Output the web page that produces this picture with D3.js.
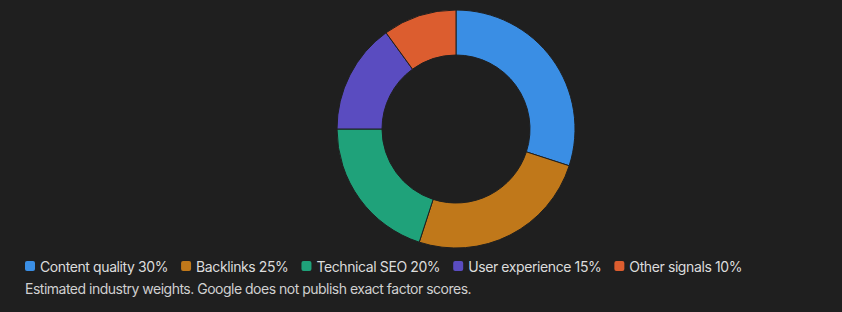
<!DOCTYPE html>
<html>
<head>
<meta charset="utf-8">
<script src="https://cdn.jsdelivr.net/npm/d3@7"></script>
<style>
  html, body { margin: 0; padding: 0; background: #1f1f1f; }
  svg { display: block; }
</style>
</head>
<body>
<div id="chart"></div>
<script>
// chart values
var factors = ["Content quality", "Backlinks", "Technical SEO", "User experience", "Other signals"];
var weights = [30, 25, 20, 15, 10];
var colors = ["#3a8ee4", "#c0781a", "#1fa27a", "#5a4cc0", "#dc5d2f"];
var note = "Estimated industry weights. Google does not publish exact factor scores.";

var width = 842, height = 312;
var cx = 456, cy = 129;
var outerR = 119, innerR = 74;

var svg = d3.select("#chart")
    .append("svg")
    .attr("width", width)
    .attr("height", height);

var pie = d3.pie().sort(null).value(function(d) { return d; });
var arc = d3.arc().innerRadius(innerR).outerRadius(outerR);

var g = svg.append("g")
    .attr("transform", "translate(" + cx + "," + cy + ")");

g.selectAll("path")
    .data(pie(weights))
    .enter()
    .append("path")
    .attr("d", arc)
    .attr("fill", function(d, i) { return colors[i]; })
    .attr("stroke", "#1f1f1f")
    .attr("stroke-width", 1);

// Legend, flows left to right
var legend = svg.append("g").attr("font-family", "Inter, sans-serif");
var x = 25;
factors.forEach(function(f, i) {
    legend.append("rect")
        .attr("x", x).attr("y", 261)
        .attr("width", 10).attr("height", 10)
        .attr("rx", 2)
        .attr("fill", colors[i]);
    var t = legend.append("text")
        .attr("x", x + 15).attr("y", 272)
        .attr("font-size", 14)
        .attr("letter-spacing", "-0.4px")
        .attr("fill", "#dcdcdc")
        .text(f + " " + weights[i] + "%");
    x += 15 + t.node().getComputedTextLength() + 13;
});

svg.append("text")
    .attr("x", 25).attr("y", 294)
    .attr("font-family", "Inter, sans-serif")
    .attr("font-size", 14)
    .attr("letter-spacing", "-0.5px")
    .attr("fill", "#d0d0d0")
    .text(note);
</script>
</body>
</html>
